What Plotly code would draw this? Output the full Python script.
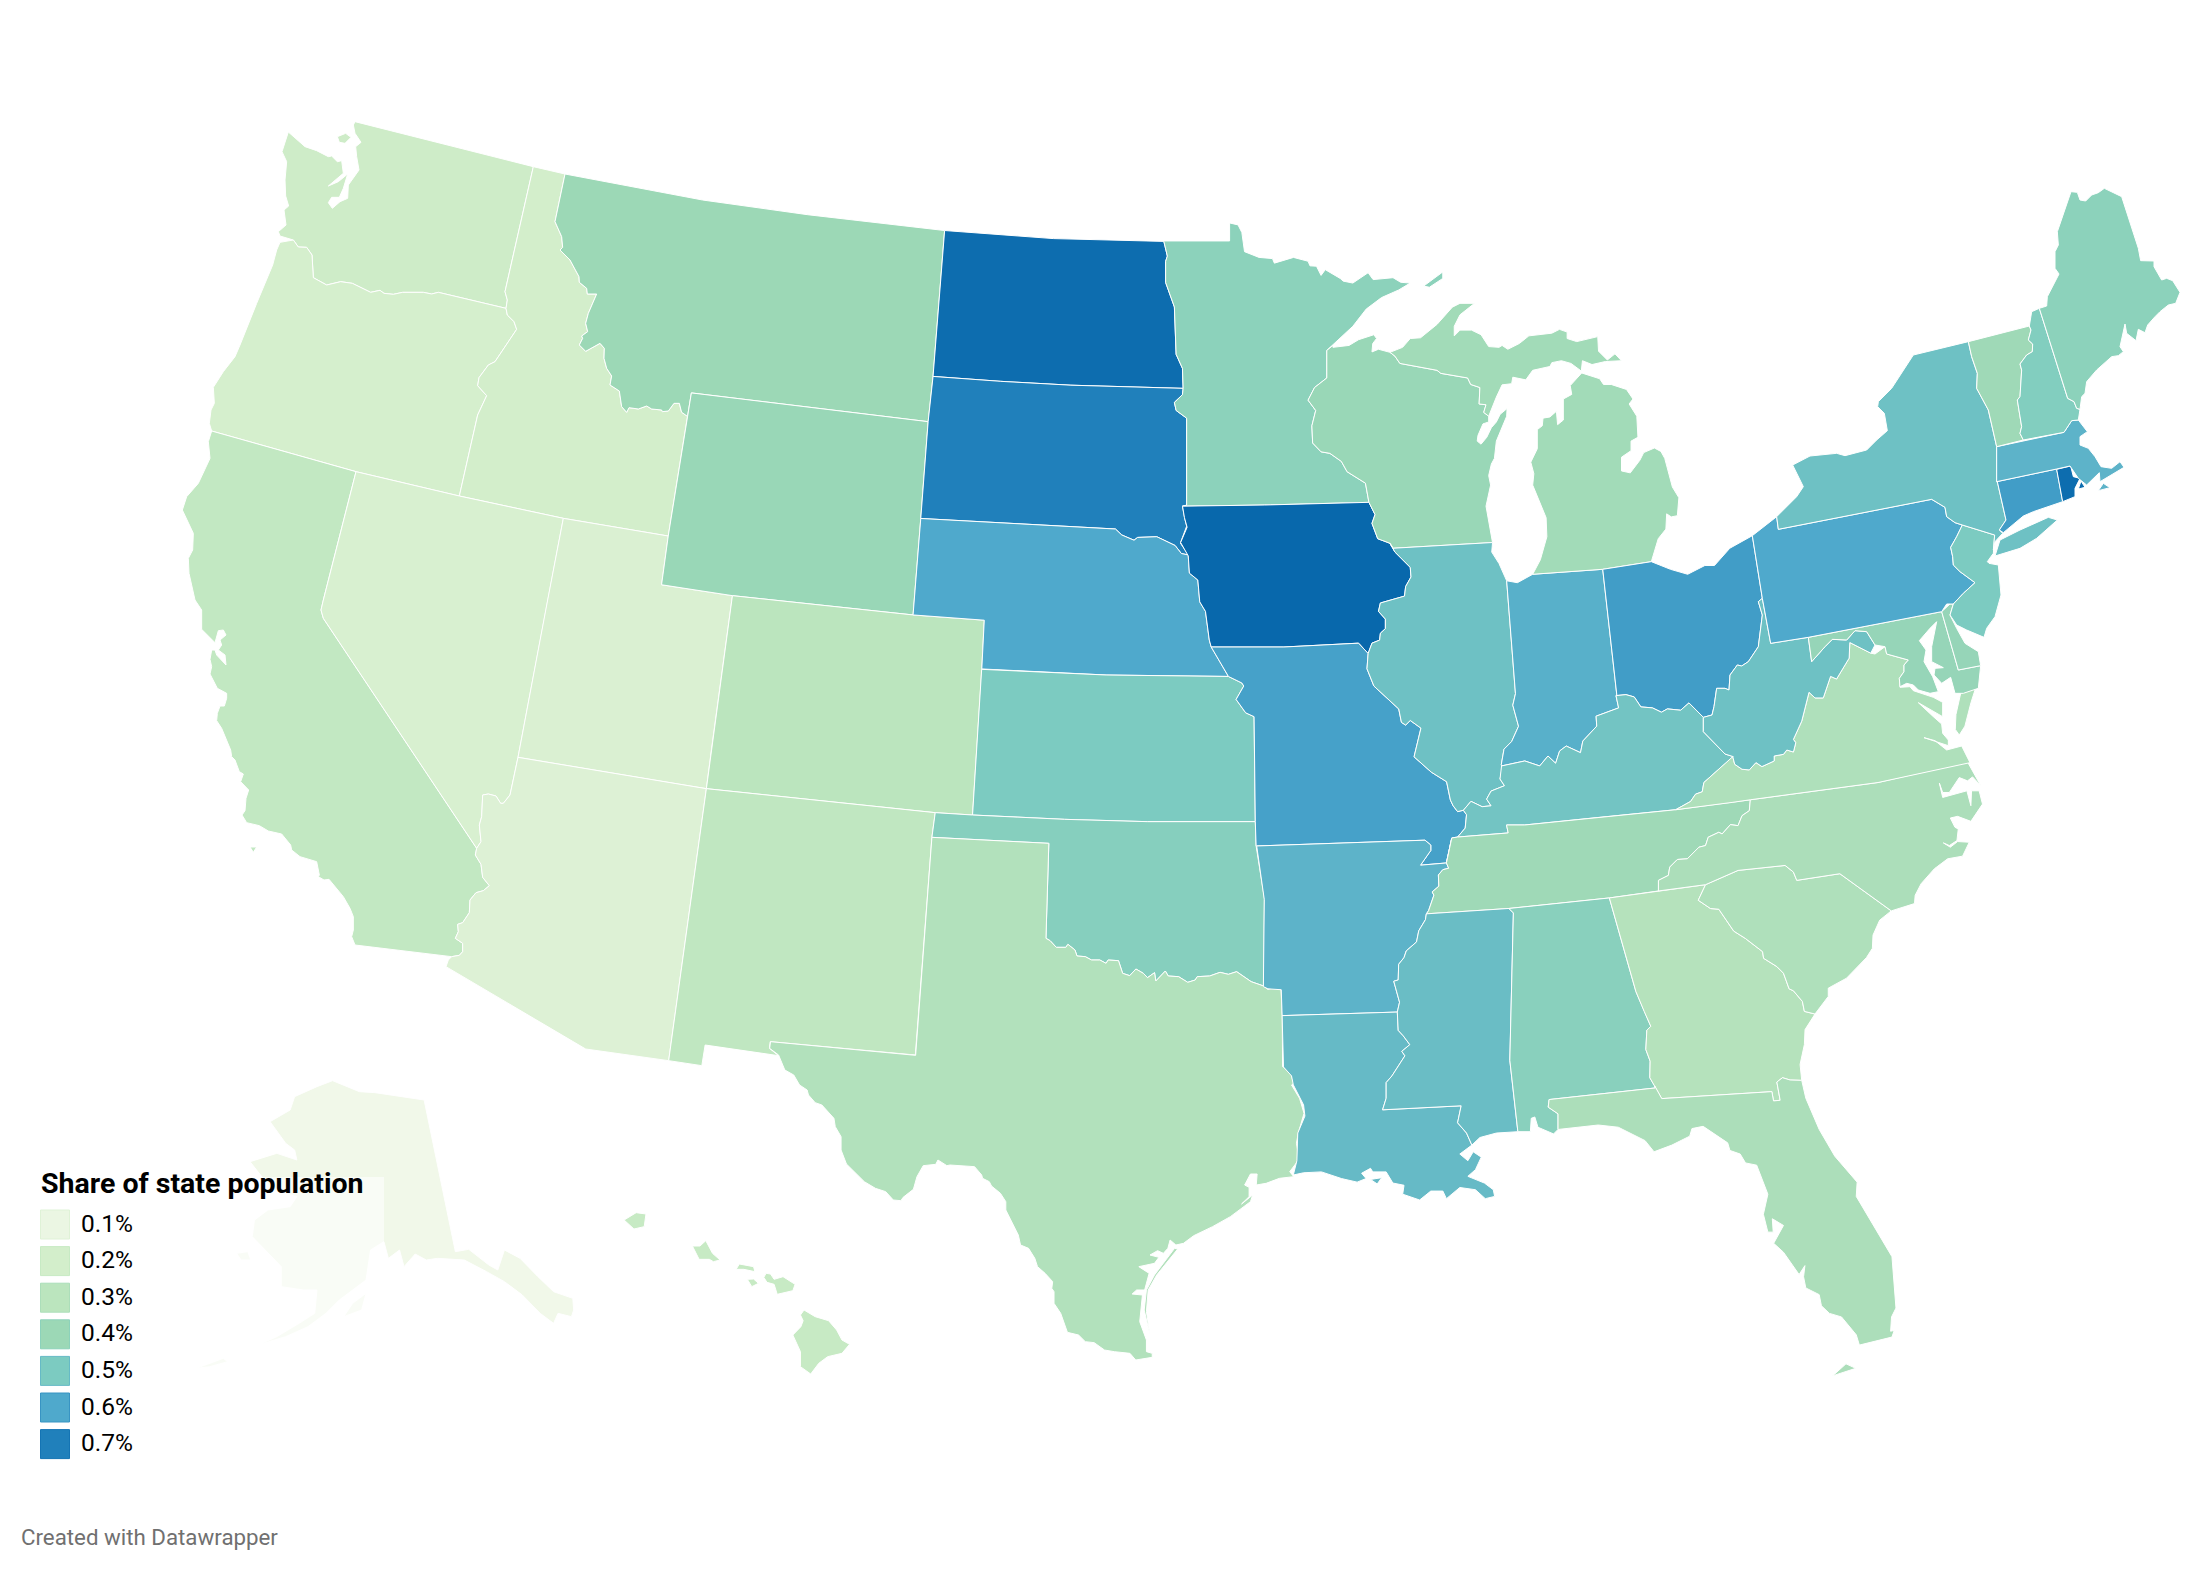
import plotly.graph_objects as go
from plotly.colors import sample_colorscale

# share of state population, one value per state
states = ["AK", "HI", "WA", "OR", "CA", "ID", "NV", "UT", "AZ", "MT", "WY", "CO", "NM",
          "ND", "SD", "NE", "KS", "OK", "TX", "MN", "IA", "MO", "AR", "LA", "WI", "IL",
          "IN", "MI", "OH", "KY", "TN", "MS", "AL", "GA", "FL", "SC", "NC", "VA", "WV",
          "MD", "DE", "PA", "NJ", "NY", "CT", "RI", "MA", "VT", "NH", "ME"]
share = [0.06, 0.25, 0.22, 0.19, 0.27, 0.20, 0.18, 0.17, 0.16, 0.40, 0.41, 0.30, 0.28,
         0.78, 0.70, 0.60, 0.50, 0.47, 0.33, 0.45, 0.80, 0.62, 0.57, 0.55, 0.41, 0.53,
         0.58, 0.38, 0.63, 0.52, 0.39, 0.54, 0.46, 0.32, 0.35, 0.34, 0.35, 0.34, 0.53,
         0.42, 0.42, 0.60, 0.50, 0.53, 0.63, 0.78, 0.57, 0.39, 0.48, 0.45]

legend_values = [0.1, 0.2, 0.3, 0.4, 0.5, 0.6, 0.7]
legend_labels = ["0.1%", "0.2%", "0.3%", "0.4%", "0.5%", "0.6%", "0.7%"]
legend_title = "Share of state population"
credit = "Created with Datawrapper"

scale_values = [0.05, 0.1, 0.2, 0.3, 0.4, 0.5, 0.6, 0.7, 0.8]
scale_colors = ["#F2F9EA", "#EBF6E3", "#D3EECB", "#BBE5BE", "#9CD8B6", "#7CCBC1", "#4FA9CC", "#2080BB", "#0868AC"]

# The plotly.js US basemap comes from a CDN and cannot load here, so the state
# outlines are traced by hand. Each piece is written in the pixels of one
# enlarged crop of the picture: crop -> (left, top, x scale, y scale).
CROPS = {
    "A": (180, 110, 3, 3), "B": (180, 600, 3, 3), "C": (1150, 200, 2.613, 2.613),
    "D": (1250, 750, 2.24, 2.24), "E": (650, 950, 2.24, 3), "F": (1850, 170, 3, 3),
    "G": (650, 200, 2.851, 2.851), "H": (650, 620, 2.412, 3), "I": (1480, 620, 3.015, 3.015),
    "N": (1700, 300, 3, 3), "K": (0, 1050, 2.24, 3),
}
PAGE_MARGIN = 8  # the page body pushes the plot this far right and down


def P(crop, text):
    x0, y0, sx, sy = CROPS[crop]
    out = []
    for item in text.split():
        a, b = item.split(",")
        out.append((x0 + float(a) / sx, y0 + float(b) / sy))
    return out


def R(chain):
    return chain[::-1]


# shared borders
WA_ID = P("A", "1060,170 975,545 982,570 978,595")
OR_WA = P("A", "978,595 775,547 755,552 730,547 668,547 640,553 612,550 600,541 572,547 517,520 482,515 440,525 400,503 396,435 380,412 355,411 340,390")
OR_ID = P("A", "838,1158 893,915 920,857 893,827 897,803 925,765 945,755 1010,658 1002,635 982,615 978,595")
ID_MT = P("A", "1155,192 1125,335 1145,380 1148,412 1140,420 1170,450 1197,500 1198,517 1220,535 1222,552 1250,552 1225,610 1217,640 1223,665 1205,678 1208,685 1198,705 1217,724 1260,700 1273,715 1272,745 1280,775 1295,798 1290,825 1318,843 1325,890 1340,907 1347,893 1375,897 1400,888 1415,897 1445,900 1447,905 1465,903 1482,880 1498,880") + P("G", "90,605 107,617")
CA_NV = P("B", "890,745 430,55 423,30 430,0") + P("A", "528,1085")
NV_AZ = P("B", "1014,472 990,585 970,610 962,610 948,588 925,582 908,585 905,650 898,675 903,725 890,745")
CA_AZ = P("B", "815,1070 838,1066 848,1055 848,1030 826,1015 835,995 833,973 848,968 868,938 870,900 888,878 910,872 928,857 908,832 903,793 886,765 890,745")
ND_MN = P("G", "1465,118 1475,160 1470,175 1470,235 1495,305 1500,440 1518,480 1520,537")
ND_SD = P("G", "1520,537 1200,528 1000,517 807,503")
SD_MN = P("G", "1520,537 1518,555 1495,577 1500,600 1530,622 1530,870 1518,873")
SD_IA = P("G", "1518,873 1525,910 1530,930 1512,978 1535,1012")
SD_NE = P("G", "1535,1012 1515,1008 1497,985 1445,960 1390,962 1380,970 1345,955 1327,938 772,908")
NE_E = P("C", "100,930 103,975 125,993 130,1050 145,1075 155,1150 160,1168 205,1245")
KS_MO = P("C", "205,1245 240,1262 245,1270 225,1305 250,1340 272,1350") + P("H", "1458,400 1460,605")
KS_OK = P("H", "1460,605 1200,605 1000,598 778,585")
OK_TX = P("H", "1480,1098 1450,1085 1415,1055 1395,1063 1375,1057 1350,1068 1320,1070 1315,1080 1297,1087 1275,1070 1250,1068 1243,1053 1220,1083 1217,1058 1200,1073 1190,1060 1172,1047 1157,1067 1140,1060 1130,1022 1105,1020 1100,1030 1085,1020 1065,1020 1050,1010 1030,1008 1025,990 1008,973 1003,982 980,982 965,962 955,955 962,670 680,652")
MN_WI = P("C", "478,380 462,393 462,465 430,490 413,523 433,550 423,590 425,635 447,658 470,662 500,683 515,710 563,740 572,790")
IA_WI = P("C", "572,790 588,822 580,845 595,885 627,897")
IA_IL = P("C", "627,897 640,920 680,960 682,985 668,1010 665,1035 602,1053 597,1075 615,1095 615,1120 602,1132 600,1150 580,1158 570,1185")
IA_MO = P("C", "570,1185 545,1158 350,1168 160,1168")
IA_W = P("C", "160,1168 155,1150 145,1075 130,1050 125,993 103,975 100,930 80,895 97,855 90,830 85,800")
MI_WI = P("C", "627,398 640,408 653,427 750,445 760,453 830,465 838,482 862,490 860,533 878,535 872,555 885,565")
IL_MO = P("C", "570,1185 567,1225 585,1270 650,1330 657,1365 668,1372 680,1360 708,1380 690,1455 735,1495 775,1520 785,1568") + P("D", "455,125 465,138 478,135")
IL_IN = P("C", "932,995 955,1290 948,1320 963,1375 945,1415 925,1435 918,1475")
IL_KY = P("D", "565,40 560,65 570,80 540,92 530,110 540,125 520,127 495,115 478,135")
IN_KY = P("I", "410,228 418,265 385,278 350,290 352,320 310,365 303,400 260,380 240,395 228,432 205,410 180,440 135,425 80,435 65,440")
OH_KY = P("I", "670,290 630,250 605,272 565,268 547,278 520,265 485,262 465,232 440,225 410,228")
OH_WV = P("N", "187,895 175,905 187,945 175,1040 145,1085 125,1098 112,1095 90,1125 87,1170 75,1165 50,1165 42,1220 36,1245 10,1252")
KY_WV = P("N", "10,1252 10,1295 75,1362 100,1370")
KY_VA = P("I", "762,412 720,450 675,490 670,518 650,525 635,547 590,572")
KY_TN = P("I", "590,572 360,595 135,618 80,618 85,642") + P("D", "465,195")
KY_MO = P("D", "478,135 485,145 482,175 465,195")
TN_VA = P("I", "590,572 760,550 815,542")
TN_NC = P("I", "815,542 812,575 790,590 778,620 755,617 730,645 720,640 688,655 680,680 660,685 625,720 595,722 572,745 568,770 538,785 538,817")
TN_S = P("I", "538,817 390,838") + P("D", "580,355 395,367")
MO_AR = P("D", "465,195 452,197 440,253 382,258 405,225 405,213 392,202 15,215")
AR_TN = P("D", "440,253 445,265 432,268 422,280 423,305 408,318 412,325 400,360 395,367")
AR_MS = P("D", "395,367 393,380 378,405 373,430 350,450 345,465 333,480 332,515 322,518 335,565 330,587")
MS_LA = P("D", "330,587 332,628 343,640 358,660 340,675 347,685 318,730 305,745 305,780 297,806 473,797 465,835 485,858 497,885")
MS_AL = P("D", "590,365 582,695 600,855")
AL_GA = P("I", "390,838 470,1120 495,1180 515,1225 503,1237 500,1295 513,1330 512,1380 527,1405")
AL_FL = P("D", "908,757 670,783 668,800 690,815 690,850")
GA_FL = P("I", "527,1405 548,1443 880,1422 885,1450 905,1448 895,1393 912,1380 935,1387 970,1388")
GA_SC = P("I", "680,798 658,845 695,870 720,872 765,938 800,960 852,1000 855,1020 895,1045 915,1065 932,1112 945,1118 972,1150 978,1180 1010,1188")
NC_SC = P("I", "680,798 720,780 778,755 920,740 945,760 955,785 1085,765 1240,877")
VA_WV = P("I", "762,412 768,435 790,450 812,452 832,430 850,442 887,425 887,410 915,405 925,392 945,398 952,370 945,360 970,305 992,218 1010,235 1035,235 1057,170 1075,178 1113,115 1115,68 1178,100")
MD_WV = P("N", "325,1012 335,1085 375,1040 397,1018 440,1020 465,992 500,995 525,1035")
MD_VA = P("N", "525,1035 555,1040 560,1062 605,1075 625,1080 612,1095 612,1115 598,1135")
PA_S = P("N", "725,935 325,1012 212,1030 187,895")
PA_NJ = P("N", "787,675 770,710 752,742 758,770 760,795 780,815 825,848 790,880 760,912 740,912 725,935")
PA_NY = P("N", "230,650 235,688 695,598 735,622 740,650 765,668 787,675")
OH_PA = P("N", "157,707 187,895")
NY_VT = P("F", "355,515 365,560 382,610 380,655 415,720 440,830")
VT_NH = P("F", "538,468 543,480 535,510 548,522 547,545 530,555 510,582 515,600 510,680 502,690 515,770 510,790 520,810")
NH_ME = P("F", "568,415 653,685 672,695 680,715 690,718")
NY_MA = P("F", "440,830 440,935")
NY_CT = P("N", "892,545 918,660 898,690")
MA_CT = P("F", "440,935 620,897")

outlines = {
    "AK": [
        P("K", "745,92 770,105 805,125 840,128 900,140 950,150 1020,605 1050,598 1095,645 1115,660 1130,600 1165,625 1205,680 1240,725 1283,745 1285,780 1280,800 1250,790 1240,820 1210,790 1170,735 1130,695 1090,665 1040,630 980,625 955,630 930,612 905,650 895,600 870,625 860,575 830,600 820,690 790,720 760,750 730,790 690,830 640,860 590,880 545,905 620,860 670,820 705,790 710,720 680,720 630,710 630,650 565,560 570,510 600,480 650,470 665,440 610,420 560,335 620,310 665,330 660,300 640,280 605,215 650,180 660,140 710,110"),
        P("K", "770,800 790,760 820,730 810,780"),
        P("K", "440,955 500,925 510,935 470,950"),
        P("K", "530,610 555,605 562,630 540,630"),
    ],
    "HI": [
        P("K", "1398,510 1425,488 1447,492 1443,530 1420,537"),
        P("E", "95,888 112,888 125,872 140,910 157,930 142,935 133,928 110,928"),
        P("E", "200,942 232,950 235,965 210,958 193,958"),
        P("E", "218,988 232,987 243,1000 228,1010"),
        P("E", "260,970 270,972 278,988 298,980 325,1003 320,1022 285,1033 278,1003 262,997 255,982"),
        P("E", "345,1080 370,1100 400,1112 418,1140 430,1170 447,1183 430,1210 398,1220 378,1240 360,1272 337,1250 337,1205 320,1155 338,1130 343,1112 337,1095"),
    ],
    "WA": [
        P("A", "525,35") + WA_ID + OR_WA + P("A", "300,378 295,365 318,345 312,300 326,288 317,258 315,210 320,155 306,125 325,66 375,110 410,122 445,140 455,138 472,155 485,152 490,190 445,228 475,215 503,192 490,235 478,262 455,262 445,278 457,295 480,275 503,265 505,225 537,180 530,140 527,110 543,97 525,70 520,45"),
        P("A", "472,80 497,70 513,82 495,100 478,97"),
    ],
    "OR": [R(OR_WA) + R(OR_ID) + P("A", "528,1085 95,963 88,940 93,900 103,880 100,832 130,785 165,740 180,705 230,580 245,545 278,465 290,420 300,397")],
    "CA": [
        P("A", "95,963 528,1085") + R(CA_NV) + R(CA_AZ) + P("B", "525,1035 515,1010 520,990 520,950 510,925 490,890 447,838 432,840 415,830 418,825 410,785 360,770 335,750 332,735 305,702 265,693 238,677 200,668 186,645 195,632 198,595 206,570 182,545 190,522 178,515 165,480 155,470 152,450 125,385 110,362 112,340 120,318 133,318 140,295 140,280 112,265 90,222 95,200 90,178 95,150 105,150 110,165 138,195 135,165 115,150 125,135 120,120 138,105 130,90 115,92 105,128 65,88 65,30 45,0") + P("A", "27,1390 25,1345 38,1320 40,1270 7,1200 20,1160 55,1120 90,1045 85,995"),
        P("B", "210,741 230,741 220,757"),
    ],
    "ID": [P("A", "1060,170") + ID_MT + P("G", "52,958") + P("A", "1150,1225") + OR_ID + R(WA_ID)],
    "NV": [P("A", "528,1085 838,1158 1150,1225") + P("B", "1103,0") + NV_AZ + CA_NV],
    "UT": [P("A", "1150,1225") + P("G", "52,958 33,1097 235,1128 175,1568") + P("H", "136,506") + P("B", "1500,553") + P("B", "1014,472 1103,0")],
    "AZ": [R(NV_AZ) + P("B", "1500,553") + P("H", "136,506 45,1322") + P("B", "1217,1347 798,1100 805,1080") + CA_AZ],
    "MT": [P("A", "1155,192 1500,258") + P("G", "150,0 450,42 840,87 807,503 793,632 118,550") + R(ID_MT)],
    "WY": [P("G", "118,550 793,632 772,908 750,1183 235,1128 33,1097 52,958 107,617")],
    "CO": [P("G", "235,1128 750,1183 953,1198 946,1337") + P("H", "778,585 688,578 136,506")],
    "NM": [P("H", "136,506 688,578 680,652 640,1305 290,1265 288,1285 310,1307 133,1275 125,1337 45,1322")],
    "ND": [P("G", "840,87 1150,110") + ND_MN + ND_SD],
    "SD": [R(ND_SD) + SD_MN[1:] + SD_IA + SD_NE + P("G", "793,632")],
    "NE": [P("G", "772,908 750,1183 953,1198 946,1337") + P("H", "1100,165") + R(NE_E) + SD_NE],
    "KS": [P("H", "800,148 1100,165") + KS_MO + KS_OK],
    "OK": [P("H", "688,578") + R(KS_OK) + P("H", "1462,678 1482,835") + OK_TX],
    "TX": [
        R(OK_TX) + P("H", "1490,1108 1505,1103 1522,1108 1525,1185") + P("E", "1417,350 1435,370 1442,400 1437,405 1455,445 1465,490 1452,550 1448,580 1452,610 1450,635 1433,665 1442,680 1410,685 1380,700 1358,705 1360,672 1345,672 1332,705 1342,712 1342,740 1325,762 1350,735 1345,755 1300,800 1260,830 1218,857 1195,880 1178,885 1165,870 1160,895 1150,910 1137,902 1120,915 1140,922 1130,940 1095,950 1118,970 1108,1020 1090,1020 1080,1032 1103,1035 1097,1115 1112,1170 1112,1205 1125,1210 1125,1222 1088,1230 1075,1210 1040,1205 1018,1200 995,1178 975,1175 960,1155 935,1147 920,1090 905,1060 905,1025 900,1015 902,995 885,970 868,950 862,925 848,895 830,885 825,855 812,820 797,780 797,755 785,730 765,708 760,695 745,685 743,675 727,650 672,645 665,647 645,630 640,643 612,647 598,680 590,718 567,742 562,752 545,750 528,725 505,715 480,695 440,642 428,600 428,560 415,530 412,505 385,465 370,458 355,435 352,420 335,405 322,375 302,360 288,315 268,295 270,275 595,316"),
        P("E", "1175,895 1130,975 1112,1020 1107,1080 1120,1155 1112,1085 1116,1020 1135,975 1182,897"),
    ],
    "MN": [P("C", "35,107 208,107 208,60 230,65 240,85 247,135 285,150 320,153 325,165 355,157 375,150 413,160 418,172 435,173 447,197 458,182 497,205 505,212 530,217 570,190 583,208 635,203 655,215 680,217 650,235 605,255 565,285 530,330") + MN_WI + P("C", "300,797 85,800") + R(SD_MN) + R(ND_MN), P("C", "715,225 765,188 765,205 730,228")],
    "IA": [P("C", "85,800 300,797") + IA_WI + IA_IL + IA_MO + IA_W],
    "MO": [R(IA_MO) + IL_MO + KY_MO + MO_AR + P("H", "1462,678") + P("H", "1460,605 1458,400") + P("C", "272,1350 250,1340 225,1305 245,1270 240,1262 205,1245")],
    "AR": [P("D", "15,215") + R(MO_AR)[:-1] + AR_TN + AR_MS + P("D", "72,595 70,537 40,535 30,530 32,335")],
    "LA": [P("D", "72,595") + MS_LA + P("D", "470,905 488,920 500,900 518,912 505,940 488,955 525,970 545,985 548,1000 527,1005 505,985 470,980 440,1005 432,988 405,988 380,1008 342,995 345,975 320,970 305,945 275,945 270,937 250,948 260,960 240,968 205,960 160,945 120,947 97,952 105,920 107,858 123,820 120,795 97,750 93,730 75,710"), P("D", "270,962 295,958 285,972")],
    "WI": [P("C", "478,385 520,380 545,365 585,352 592,362 582,375 580,397 597,390") + MI_WI + P("C", "885,580 870,585 857,615 855,630 865,638 880,620 892,595 905,580 915,560 933,545 932,565 905,630 900,675 892,690 885,720 890,745 878,800 890,860 895,895 635,910") + R(IA_WI) + R(MN_WI)],
    "IL": [P("C", "635,910 895,895 893,920 912,950") + IL_IN + IL_KY + R(IL_MO) + R(IA_IL)],
    "IN": [P("C", "932,995 960,1000 1000,978 1183,965 1220,1295") + IN_KY + R(IL_IN)],
    "MI": [
        P("C", "627,398 660,385 680,362 707,360 750,325 790,280 810,270 848,270 810,300 795,330 795,355 810,340 840,340 865,352 885,383 912,385 920,380 935,390 965,375 990,355 1050,348 1070,338 1090,345 1090,362 1115,370 1170,357 1172,395 1195,418 1215,402 1232,420 1190,422 1155,430 1130,420 1127,447 1100,427 1075,420 1050,425 1045,435 1000,445 982,470 948,463 945,480 920,483 905,515") + R(MI_WI),
        P("C", "1128,452 1175,467 1185,482 1205,482 1245,495 1262,520 1252,533 1272,565 1275,620 1257,630 1257,655 1232,672 1232,708 1255,713 1280,680 1290,660 1318,648 1335,657 1345,675 1365,750 1382,778 1378,825 1362,828 1350,820 1348,860 1328,885 1310,945 1183,965 1000,978 1020,940 1037,880 1035,830 1000,745 1003,715 995,685 1012,650 1012,600 1025,590 1027,570 1045,567 1062,552 1065,587 1080,575 1080,520 1102,508 1098,485"),
    ],
    "OH": [P("C", "1183,965 1310,945 1360,965 1405,978 1450,955 1475,955 1515,910") + OH_PA + OH_WV + OH_KY + P("C", "1220,1295")],
    "KY": [OH_KY + IN_KY[1:] + IL_KY[1:] + KY_MO[1:] + R(KY_TN)[1:] + R(KY_VA) + R(KY_WV)],
    "TN": [TN_VA + TN_NC + TN_S + R(AR_TN)[1:] + R(MO_AR[:2]) + R(KY_TN)[1:]],
    "MS": [P("D", "395,367 580,355") + MS_AL + P("D", "552,858 515,868") + R(MS_LA) + R(AR_MS)],
    "AL": [P("D", "580,355") + P("I", "390,838") + AL_GA + AL_FL + P("D", "680,860 645,845 638,822 630,825 628,855 600,855 582,695 590,365")],
    "GA": [P("I", "390,838 538,817 680,798") + GA_SC[1:] + P("I", "980,1235 978,1280 965,1340") + R(GA_FL) + R(AL_GA)],
    "FL": [R(AL_FL) + GA_FL + P("D", "1245,780 1275,850 1310,910 1360,968 1358,1000 1438,1135 1447,1250 1437,1270 1435,1302 1443,1300 1438,1315 1400,1325 1365,1333 1358,1310 1325,1270 1298,1262 1280,1245 1275,1220 1245,1205 1240,1180 1243,1155 1230,1175 1195,1125 1173,1105 1195,1065 1170,1050 1172,1080 1160,1080 1150,1040 1160,995 1135,930 1110,925 1098,905 1075,897 1070,880 1015,843 990,848 985,865 945,885 905,900 885,875 825,845 780,840"), P("D", "1305,1402 1335,1375 1357,1385 1325,1395")],
    "SC": [NC_SC + P("I", "1205,905 1185,950 1183,990 1165,1018 1105,1080 1050,1110 1050,1135") + R(GA_SC)],
    "NC": [P("I", "815,542 1200,490 1470,428 1510,500 1485,473 1470,485 1445,475 1415,520 1395,520 1385,492 1395,535 1468,515 1480,560 1482,515 1505,515 1515,555 1480,607 1440,592 1418,597 1432,625 1442,630 1438,665 1415,680 1397,672 1418,685 1440,668 1475,670 1455,712 1410,720 1370,750 1330,795 1312,830 1310,855 1240,877") + R(NC_SC) + P("I", "538,817") + R(TN_NC)],
    "VA": [
        VA_WV + P("N", "525,1062") + MD_VA[1:] + P("N", "600,1162 630,1160 640,1172 700,1192 728,1207 728,1250 655,1208 700,1250 725,1272 728,1300 745,1320 745,1337 672,1313 705,1322 740,1350 785,1338 810,1388") + P("I", "1200,490") + R(TN_VA) + R(KY_VA)[1:],
        P("I", "1450,218 1495,203 1480,250 1462,320 1445,347 1433,330 1435,285"),
    ],
    "WV": [OH_WV + KY_WV + VA_WV + P("N", "525,1035") + R(MD_WV) + P("N", "212,1030")],
    "MD": [P("N", "325,1012 725,935 775,1110 842,1097 835,1165 790,1180 765,1180 752,1132 725,1150 702,1125 705,1105 730,1103 695,1085 695,1040 705,990 710,965 690,985 658,1022 678,1050 672,1085 698,1130 715,1175 690,1180 655,1170 640,1155 620,1150 600,1160") + R(MD_VA) + R(MD_WV)],
    "DE": [P("N", "725,935 750,912 760,912 750,945 770,985 795,1030 835,1055 842,1097 775,1110")],
    "PA": [P("N", "157,707") + PA_NY + PA_NJ + PA_S],
    "NJ": [P("N", "787,675 884,705 880,760 862,785 867,790 895,795 903,885 885,950 860,985 852,1012 800,990 770,975 750,945 760,912") + R(PA_NJ)[2:]],
    "NY": [
        P("N", "230,650 290,590 310,560 278,495 330,468 410,460 435,467 500,450 530,420 562,392 553,340 533,320 535,305 575,265 640,165") + NY_VT + NY_MA + NY_CT + P("N", "908,700 885,725 880,750 884,705") + R(PA_NY)[:-1],
        P("N", "885,768 900,720 960,690 1045,652 1072,660 1010,715 960,745"),
    ],
    "CT": [MA_CT + P("N", "1088,605 1000,635 970,648 910,698") + R(NY_CT)],
    "RI": [P("N", "1070,508 1112,498 1120,530 1140,535 1125,565 1125,590 1088,605"), P("N", "1135,567 1143,543 1155,562")],
    "MA": [
        P("F", "440,830 642,787 665,752 685,750 712,785 690,800 690,825 715,835 735,860 753,890 785,895 810,875 822,892 750,935 748,908 710,945 685,925 660,888 620,897 440,935"),
        P("F", "745,962 760,940 780,953"),
    ],
    "VT": [VT_NH + P("F", "440,830") + R(NY_VT)],
    "NH": [P("F", "538,468 545,425") + NH_ME + P("F", "685,750 665,752 642,787") + R(VT_NH)],
    "ME": [P("F", "590,408 592,380 627,312 615,295 615,245 625,225 622,185 663,65 682,67 690,90 707,93 725,75 745,68 763,55 815,80 865,235 872,272 912,273 912,290 935,330 950,325 968,332 990,367 977,400 955,405 930,425 915,440 893,465 885,488 865,478 858,512 830,490 825,462 810,530 820,545 805,557 785,560 740,600 710,635 705,670 695,680") + R(NH_ME)],
}


def color_for(value):
    low, high = scale_values[0], scale_values[-1]
    stops = [[(v - low) / (high - low), c] for v, c in zip(scale_values, scale_colors)]
    return sample_colorscale(stops, [(min(max(value, low), high) - low) / (high - low)])[0]


fig = go.Figure()

for state, value in zip(states, share):
    xs, ys = [], []
    for ring in outlines[state]:
        xs += [p[0] for p in ring] + [ring[0][0], None]
        ys += [p[1] for p in ring] + [ring[0][1], None]
    fig.add_trace(go.Scatter(
        x=xs, y=ys, name=state, mode="lines", fill="toself",
        fillcolor=color_for(value), line=dict(color="white", width=1),
        hoverinfo="name", showlegend=False,
    ))

# see-through white panel behind the legend, it fades Alaska
fig.add_shape(type="rect", x0=0, x1=384, y0=1177, y1=1500, xref="x", yref="y",
              fillcolor="rgba(255,255,255,0.6)", line_width=0, layer="above")

for i, (value, label) in enumerate(zip(legend_values, legend_labels)):
    y = 1224.5 + 36.6 * i
    fig.add_shape(type="rect", x0=40.5, x1=69.5, y0=y - 14.5, y1=y + 14.5, xref="x", yref="y",
                  fillcolor=color_for(value), line=dict(color=color_for(value + 0.05), width=1), layer="above")
    fig.add_annotation(x=78.5, y=y - 1.5, text=label, showarrow=False, xanchor="left", yanchor="middle",
                       font=dict(family="Roboto", size=24.5, color="#000000"))

fig.add_annotation(x=38.5, y=1183, text="<b>" + legend_title + "</b>", showarrow=False, xanchor="left",
                   yanchor="middle", font=dict(family="Roboto", size=28.5, color="#000000"))
fig.add_annotation(x=19, y=1537, text=credit, showarrow=False, xanchor="left", yanchor="middle",
                   font=dict(family="Roboto", size=22.3, color="#707070"))

fig.update_xaxes(range=[PAGE_MARGIN, 2200 + PAGE_MARGIN], visible=False, fixedrange=True)
fig.update_yaxes(range=[1580 + PAGE_MARGIN, PAGE_MARGIN], visible=False, fixedrange=True)
fig.update_layout(width=2200, height=1580, margin=dict(l=0, r=0, t=0, b=0),
                  paper_bgcolor="white", plot_bgcolor="white")
fig.write_html("out.html")
